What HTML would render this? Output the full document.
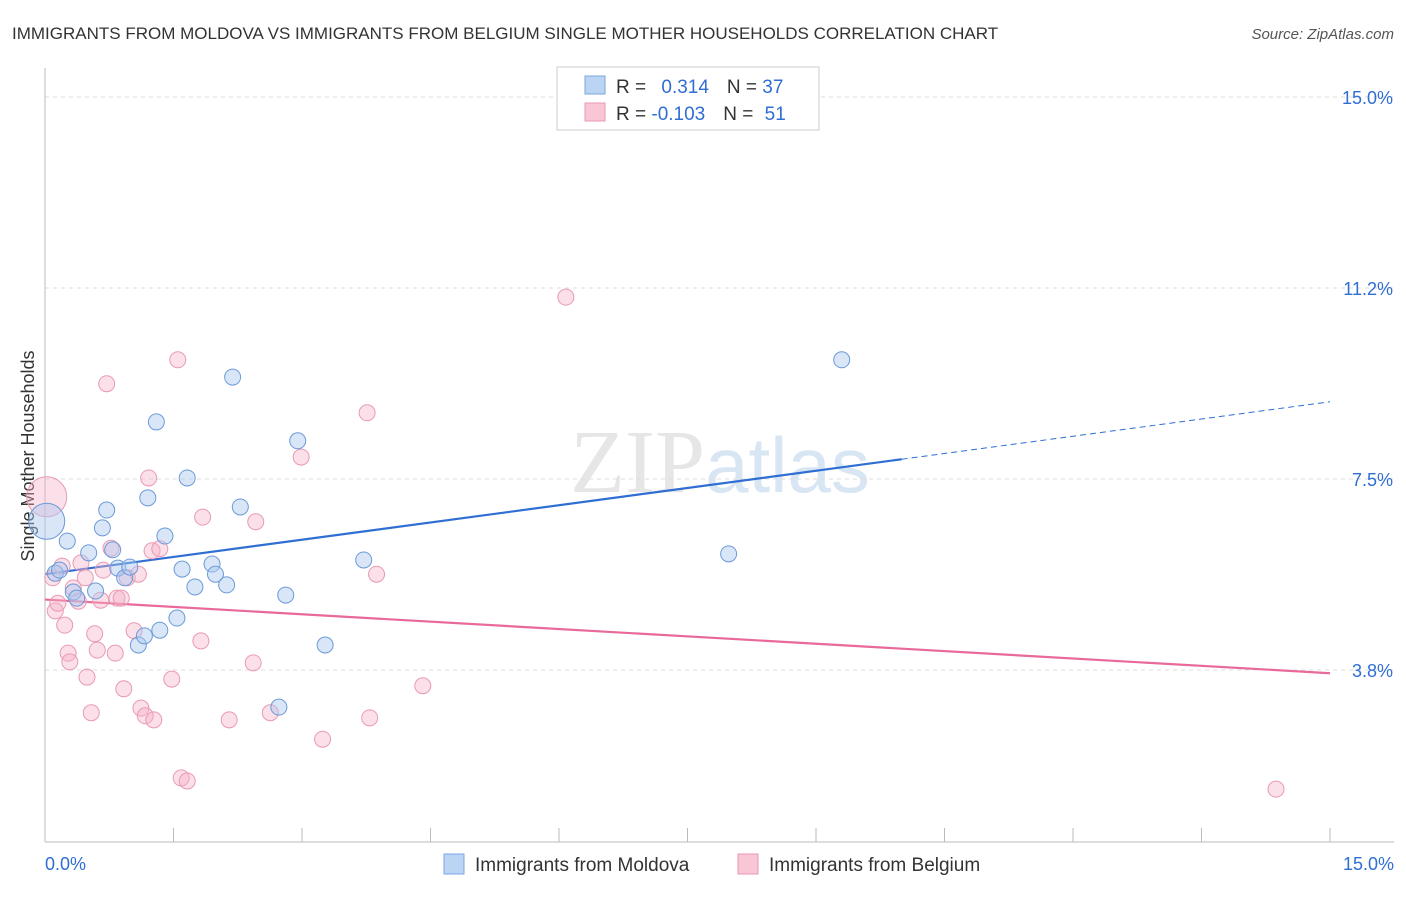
<!DOCTYPE html>
<html><head><meta charset="utf-8"><style>
body{margin:0;background:#fff;font-family:"Liberation Sans",sans-serif;}
</style></head><body>
<svg width="1406" height="892" viewBox="0 0 1406 892" xmlns="http://www.w3.org/2000/svg" font-family="Liberation Sans, sans-serif">
<text x="12" y="39" font-size="17" fill="#333">IMMIGRANTS FROM MOLDOVA VS IMMIGRANTS FROM BELGIUM SINGLE MOTHER HOUSEHOLDS CORRELATION CHART</text>
<text x="1394" y="39" font-size="15" fill="#555" text-anchor="end" font-style="italic">Source: ZipAtlas.com</text>
<text x="720" y="492" font-size="90" fill="#e6e6e6" text-anchor="middle" font-family="Liberation Serif, serif">ZIP<tspan fill="#d8e6f4" font-family="Liberation Sans, sans-serif" font-size="78">atlas</tspan></text>
<g id="grid"></g>
<g id="axes"></g>
<text transform="translate(34,456) rotate(-90)" font-size="18" fill="#333" text-anchor="middle">Single Mother Households</text>
<g id="trend"></g>
<g id="points"></g>
<g>
<rect x="557" y="67" width="262" height="63" fill="#fff" stroke="#ccc"/>
<rect x="585" y="76" width="20" height="18" fill="#bcd4f4" stroke="#7aa6e0"/>
<rect x="585" y="103" width="20" height="18" fill="#f9c6d6" stroke="#e99ab3"/>
<text x="616" y="93" font-size="19" fill="#333">R = <tspan fill="#2f6ed3" dx="10">0.314</tspan><tspan dx="18" fill="#333">N = </tspan><tspan fill="#2f6ed3">37</tspan></text>
<text x="616" y="120" font-size="19" fill="#333">R = <tspan fill="#2f6ed3">-0.103</tspan><tspan dx="18" fill="#333">N = </tspan><tspan dx="6" fill="#2f6ed3">51</tspan></text>
</g>
<g>
<rect x="444" y="854" width="20" height="20" fill="#bcd4f4" stroke="#7aa6e0"/>
<text x="475" y="871" font-size="19" fill="#333">Immigrants from Moldova</text>
<rect x="738" y="854" width="20" height="20" fill="#f9c6d6" stroke="#e99ab3"/>
<text x="769" y="871" font-size="19" fill="#333">Immigrants from Belgium</text>
</g>
</svg>
<script>
const NS="http://www.w3.org/2000/svg";
const yTicks=[15.0,11.2,7.5,3.8];
const yTickVals=[15,11.25,7.5,3.75];
const xTickLabels=["0.0%","15.0%"];
const moldovaX=[0.02,0.12,0.17,0.26,0.33,0.37,0.51,0.59,0.67,0.72,0.79,0.85,0.93,0.99,1.09,1.16,1.20,1.30,1.34,1.40,1.54,1.60,1.66,1.75,1.95,1.99,2.12,2.19,2.28,2.73,2.81,2.95,3.27,3.72,7.98,9.30];
const moldovaY=[6.67,5.65,5.71,6.28,5.28,5.16,6.05,5.30,6.54,6.89,6.11,5.75,5.56,5.77,4.24,4.42,7.13,8.62,4.53,6.38,4.77,5.73,7.52,5.38,5.83,5.63,5.42,9.50,6.95,3.02,5.22,8.25,4.24,5.91,6.03,9.84];
const belgiumX=[0.02,0.09,0.12,0.15,0.20,0.23,0.27,0.29,0.33,0.39,0.42,0.47,0.49,0.54,0.58,0.61,0.65,0.68,0.72,0.77,0.82,0.84,0.89,0.92,0.96,1.04,1.09,1.12,1.17,1.21,1.25,1.27,1.34,1.48,1.55,1.59,1.66,1.82,1.84,2.15,2.43,2.46,2.63,2.99,3.24,3.76,3.79,3.87,4.41,6.08,14.37];
const belgiumY=[7.15,5.56,4.91,5.06,5.79,4.63,4.08,3.91,5.36,5.10,5.85,5.56,3.61,2.91,4.46,4.14,5.12,5.71,9.37,6.14,4.08,5.16,5.16,3.38,5.56,4.52,5.63,3.00,2.85,7.52,6.09,2.77,6.13,3.57,9.84,1.63,1.57,4.32,6.75,2.77,3.89,6.66,2.91,7.93,2.39,8.80,2.81,5.63,3.44,11.07,1.41];
const xMax=15;
const sx=v=>45+v*(1285/xMax);
const sy=v=>97+(15-v)*50.93;
function el(t,a,p){const e=document.createElementNS(NS,t);for(const k in a)e.setAttribute(k,a[k]);p.appendChild(e);return e;}
const grid=document.getElementById('grid'),axes=document.getElementById('axes'),pts=document.getElementById('points'),tr=document.getElementById('trend');
yTickVals.forEach((v,i)=>{
 const l=el('line',{x1:45,x2:1394,y1:sy(v),y2:sy(v),stroke:'#ddd','stroke-dasharray':'4,4'},grid);
 
 
 const t=el('text',{x:1393,y:sy(v)+7,'font-size':18,fill:'#2f6ed3','text-anchor':'end'},axes);
 t.textContent=yTicks[i].toFixed(1)+'%';
 
 
});
const xa=el('line',{x1:45,x2:1394,y1:842,y2:842,stroke:'#bbb'},axes);


const ya=el('line',{x1:45,x2:45,y1:68,y2:842,stroke:'#bbb'},axes);


for(let i=0;i<=10;i++){const v=i*1.5;const t=el('line',{x1:sx(v),x2:sx(v),y1:828,y2:842,stroke:'#bbb'},axes);
 
 }
[[0,'start',45],[15,'end',1394]].forEach((a,i)=>{const t=el('text',{x:a[2],y:870,'font-size':18,fill:'#2f6ed3','text-anchor':a[1]},axes);t.textContent=xTickLabels[i];
 
 });
function fit(X,Y){const n=X.length;let mx=0,my=0;X.forEach((x,i)=>{mx+=x;my+=Y[i];});mx/=n;my/=n;let sxy=0,sxx=0;X.forEach((x,i)=>{sxy+=(x-mx)*(Y[i]-my);sxx+=(x-mx)**2;});const b=sxy/sxx;return [my-b*mx,b];}
const [ma,mb]=fit(moldovaX,moldovaY),[ba,bb]=fit(belgiumX,belgiumY);
const solidEnd=10;
let l=el('line',{x1:sx(0),y1:sy(ma),x2:sx(solidEnd),y2:sy(ma+mb*solidEnd),stroke:'#2f6ed3','stroke-width':2.2},tr);


l=el('line',{x1:sx(solidEnd),y1:sy(ma+mb*solidEnd),x2:sx(15),y2:sy(ma+mb*15),stroke:'#2f6ed3','stroke-width':1,'stroke-dasharray':'6,4'},tr);


l=el('line',{x1:sx(0),y1:sy(ba),x2:sx(15),y2:sy(ba+bb*15),stroke:'#e8699a','stroke-width':2.2},tr);


belgiumX.forEach((x,i)=>{const c=el('circle',{cx:sx(x),cy:sy(belgiumY[i]),r:i==0?20:8,fill:'rgba(246,176,200,0.4)',stroke:'#e99ab3','stroke-width':1},pts);
 
 });
moldovaX.forEach((x,i)=>{const c=el('circle',{cx:sx(x),cy:sy(moldovaY[i]),r:i==0?18:8,fill:'rgba(170,200,240,0.45)',stroke:'#6b9ad8','stroke-width':1},pts);
 
 });
</script>
</body></html>
